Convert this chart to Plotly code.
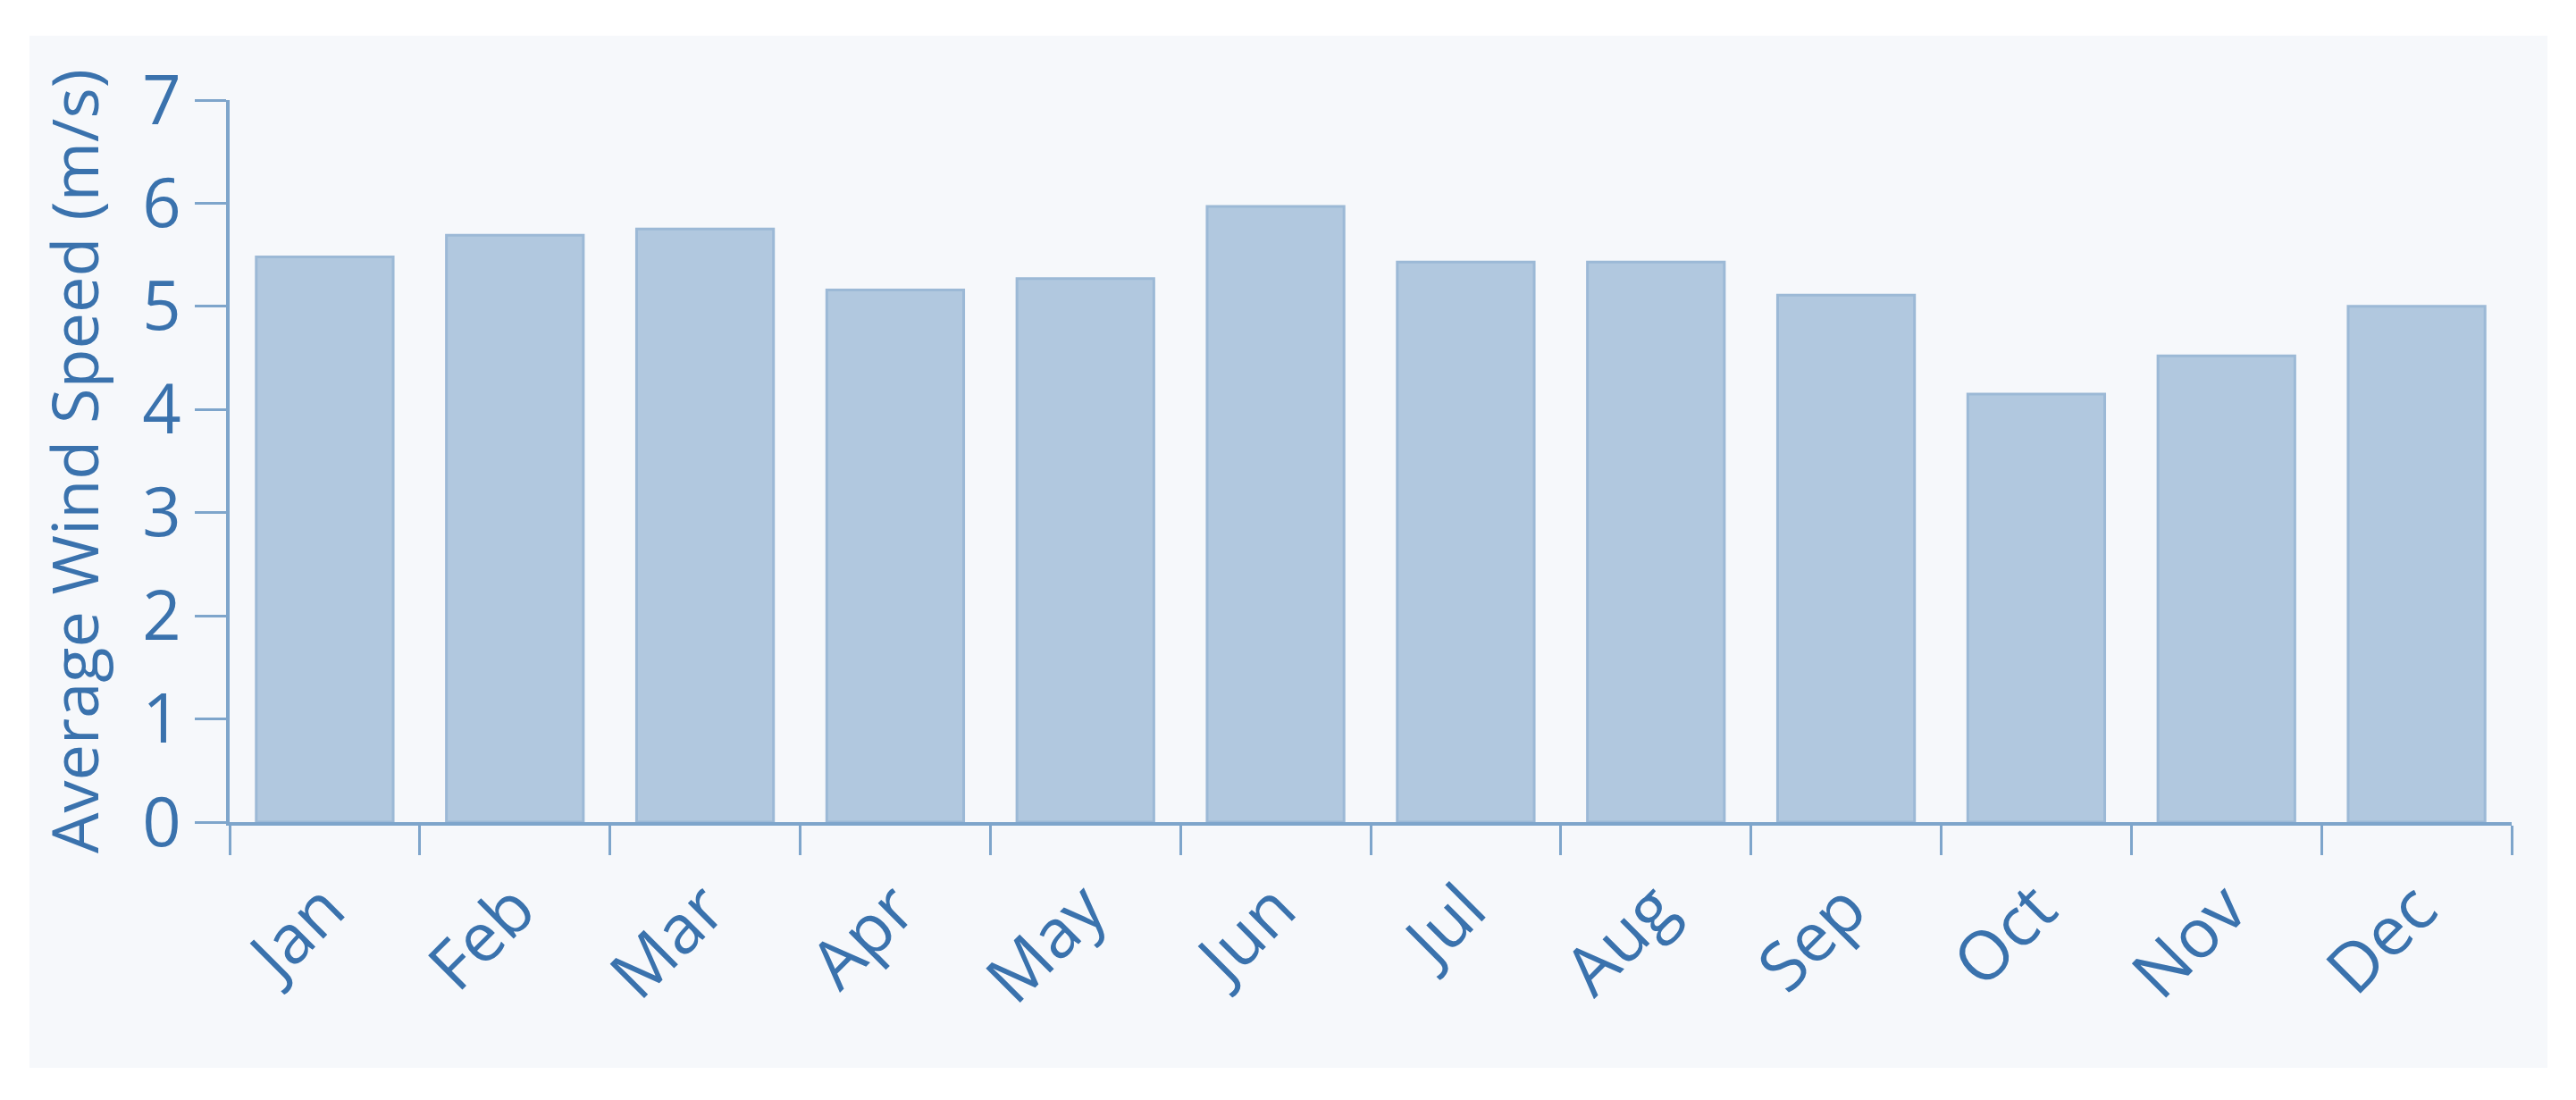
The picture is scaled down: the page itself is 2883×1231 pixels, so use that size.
import plotly.graph_objects as go

months = ["Jan", "Feb", "Mar", "Apr", "May", "Jun", "Jul", "Aug", "Sep", "Oct", "Nov", "Dec"]
wind_speed = [5.48, 5.69, 5.75, 5.16, 5.27, 5.97, 5.43, 5.43, 5.11, 4.15, 4.52, 5.00]
y_ticks = [0, 1, 2, 3, 4, 5, 6, 7]

W, H = 2883, 1231
OFF = 8  # page body margin
ML, MT = 257 - OFF, 112 - OFF
MR, MB = W - (2811 - OFF), H - (920 - OFF)
pw, ph = W - ML - MR, H - MT - MB
plot_bottom = H - MB

text_color = "#3a72ad"
axis_color = "#7ea5cb"
panel_color = "#f6f8fb"

fig = go.Figure(
    go.Bar(
        x=months,
        y=wind_speed,
        marker=dict(color="#b1c8df", line=dict(color="#9cb9d6", width=3)),
        hoverinfo="x+y",
    )
)

# light panel behind the whole chart, leaving a white border
fig.add_shape(
    type="rect", xref="paper", yref="paper", layer="below",
    x0=(33 - OFF - ML) / pw, x1=(2851 - OFF - ML) / pw,
    y0=(plot_bottom - (1195 - OFF)) / ph, y1=(plot_bottom - (40 - OFF)) / ph,
    fillcolor=panel_color, line=dict(width=0),
)

fig.update_layout(
    width=W, height=H,
    margin=dict(l=ML, r=MR, t=MT, b=MB),
    paper_bgcolor="white",
    plot_bgcolor="rgba(0,0,0,0)",
    bargap=0.28,
    showlegend=False,
    font=dict(family="Open Sans", color=text_color, size=76),
)
fig.update_xaxes(
    type="category",
    showline=True, linecolor=axis_color, linewidth=4,
    ticks="outside", tickson="boundaries", ticklen=33, tickwidth=3, tickcolor=axis_color,
    tickangle=-45, tickfont=dict(size=76, color=text_color),
    ticklabelstandoff=18,
    showgrid=False, zeroline=False,
)
fig.update_yaxes(
    range=[0, 7], tickvals=y_ticks,
    showline=True, linecolor=axis_color, linewidth=4,
    ticks="outside", ticklen=35, tickwidth=3, tickcolor=axis_color,
    tickfont=dict(size=76, color=text_color),
    showgrid=False, zeroline=False,
    title=dict(text="Average Wind Speed (m/s)", font=dict(size=72, color=text_color), standoff=26),
)

fig.write_html("out.html")
